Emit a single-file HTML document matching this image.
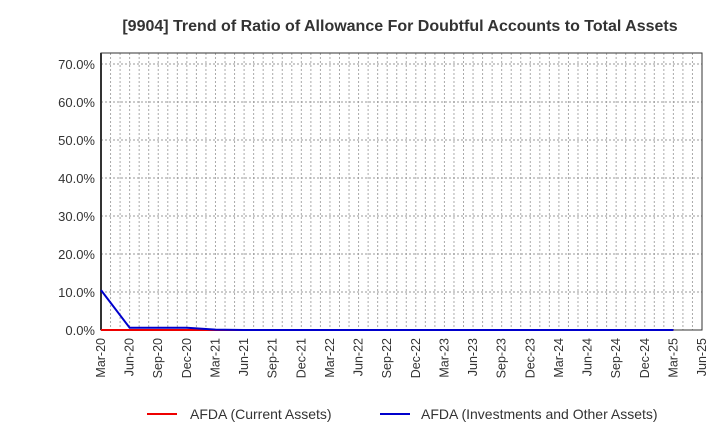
<!DOCTYPE html>
<html><head><meta charset="utf-8"><style>
body{margin:0;background:#fff;font-family:"Liberation Sans",Arial,sans-serif}
svg text{font-family:"Liberation Sans",Arial,sans-serif}
</style></head><body>
<svg id="c" width="720" height="440" xmlns="http://www.w3.org/2000/svg">
<text x="400" y="31" text-anchor="middle" font-size="16" font-weight="bold" fill="#333">[9904]  Trend of Ratio of Allowance For Doubtful Accounts to Total Assets</text>
<g id="grid"></g><g id="axes"></g><g id="series"></g>
<g>
<line x1="147" y1="414" x2="177" y2="414" stroke="#e00" stroke-width="2"/>
<text x="190" y="419" font-size="14" fill="#333">AFDA (Current Assets)</text>
<line x1="380" y1="414" x2="410" y2="414" stroke="#00c" stroke-width="2"/>
<text x="421" y="419" font-size="14" fill="#333">AFDA (Investments and Other Assets)</text>
</g>
</svg>
<script>
const xTickLabels=["Mar-20","Jun-20","Sep-20","Dec-20","Mar-21","Jun-21","Sep-21","Dec-21","Mar-22","Jun-22","Sep-22","Dec-22","Mar-23","Jun-23","Sep-23","Dec-23","Mar-24","Jun-24","Sep-24","Dec-24","Mar-25","Jun-25"];
const yTicks=[0,10,20,30,40,50,60,70];
const currentAssets=[0,0,0,0,0,0,0,0,0,0,0,0,0,0,0,0,0,0,0,0,0];
const investmentsAssets=[10.5,0.6,0.6,0.6,0.1,0,0,0,0,0,0,0,0,0,0,0,0,0,0,0,0];
const L=101,R=702,T=53,B=330,YMAX=72.9,NM=63;
const x=m=>L+(R-L)*m/NM, y=v=>B-(B-T)*v/YMAX;
const ns="http://www.w3.org/2000/svg";
function mk(p,t,a){const e=document.createElementNS(ns,t);for(const k in a)e.setAttribute(k,a[k]);p.appendChild(e);return e;}
const g=document.getElementById('grid'),ax=document.getElementById('axes'),s=document.getElementById('series');
for(let m=1;m<NM;m++){const l=mk(g,'line',{x1:x(m),x2:x(m),y1:T,y2:B,stroke:'#aaa','stroke-dasharray':'2,2','stroke-width':1});

}
yTicks.forEach(v=>{if(v>0){const l=mk(g,'line',{x1:L,x2:R,y1:y(v),y2:y(v),stroke:'#999','stroke-dasharray':'2,2','stroke-width':1});

}
const t=mk(ax,'text',{x:L-6,y:y(v)+5,'text-anchor':'end','font-size':13,fill:'#333'});t.textContent=v.toFixed(1)+'%';

});
const fr=mk(ax,'rect',{x:L,y:T,width:R-L,height:B-T,fill:'none',stroke:'#333','stroke-width':1});


const la=mk(ax,'line',{x1:L,x2:L,y1:T,y2:B,stroke:'#333','stroke-width':2});


xTickLabels.forEach((lb,i)=>{const xx=x(i*3);const t=mk(ax,'text',{x:xx+4,y:B+8,'text-anchor':'end','font-size':12.5,fill:'#333',transform:`rotate(-90 ${xx+4} ${B+8})`});t.textContent=lb;

});
function line(d,c,n){const p=mk(s,'polyline',{points:d.map((v,i)=>x(i*3)+','+y(v)).join(' '),fill:'none',stroke:c,'stroke-width':2});

}
line(currentAssets,'#e00','series-current-assets');
line(investmentsAssets,'#00c','series-investments-assets');
</script>
</body></html>
